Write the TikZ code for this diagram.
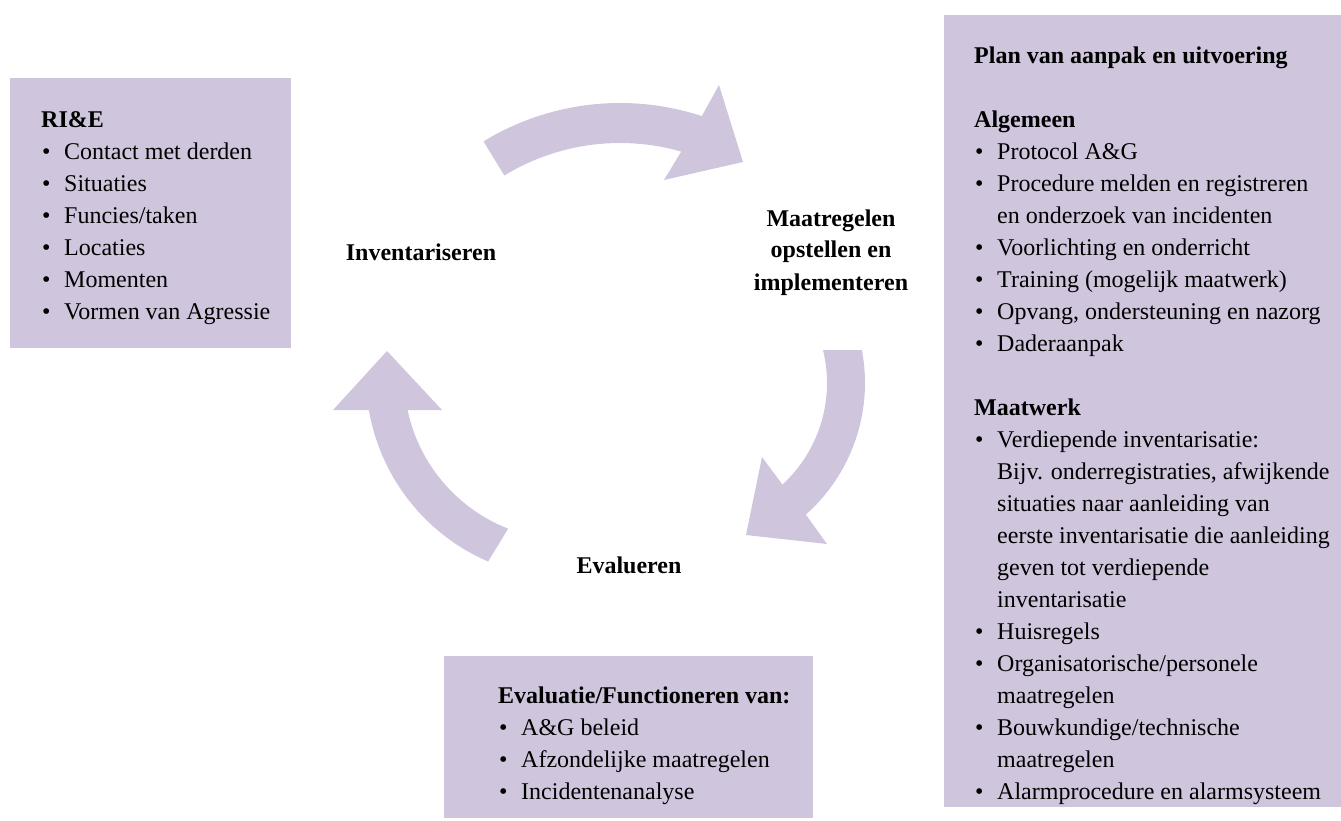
\documentclass[tikz,border=0pt]{standalone}
\usepackage{fontspec}
\setmainfont{Liberation Serif}
\usetikzlibrary{calc}
\definecolor{lilac}{RGB}{207,198,222}
% bullet and hanging indent for list lines
\newcommand\bul{\makebox[23pt][l]{\hspace{1pt}\textbullet}}
\newcommand\ind{\hspace*{23pt}}
\begin{document}
\begin{tikzpicture}[x=1pt,y=-1pt,
  panel/.style={fill=lilac, draw=none, inner sep=0pt, outer sep=0pt, anchor=north west},
  listtext/.style={anchor=base west, inner sep=0pt, font=\fontsize{24}{32}\selectfont},
  phase/.style={anchor=base, inner sep=0pt, font=\fontsize{24}{32}\selectfont\bfseries},
  cyclearrow/.style={fill=lilac, draw=none}]
\useasboundingbox (0,0) rectangle (1341,821);

% coloured panels
\node[panel, minimum width=281pt, minimum height=270pt] (riepanel) at (10,78) {};
\node[panel, minimum width=397pt, minimum height=792pt] (planpanel) at (944,15) {};
\node[panel, minimum width=369pt, minimum height=162pt] (evalpanel) at (444,656) {};

% panel contents
\node[listtext] (rietext) at (41,128) {\begin{tabular}[t]{@{}l@{}}
\textbf{RI\&E}\\
\bul Contact met derden\\
\bul Situaties\\
\bul Funcies/taken\\
\bul Locaties\\
\bul Momenten\\
\bul Vormen van Agressie
\end{tabular}};

\node[listtext] (plantext) at (974,64) {\begin{tabular}[t]{@{}l@{}}
\textbf{Plan van aanpak en uitvoering}\\
\mbox{}\\
\textbf{Algemeen}\\
\bul Protocol A\&G\\
\bul Procedure melden en registreren\\
\ind en onderzoek van incidenten\\
\bul Voorlichting en onderricht\\
\bul Training (mogelijk maatwerk)\\
\bul Opvang, ondersteuning en nazorg\\
\bul Daderaanpak\\
\mbox{}\\
\textbf{Maatwerk}\\
\bul Verdiepende inventarisatie:\\
\ind Bijv. onderregistraties, afwijkende\\
\ind situaties naar aanleiding van\\
\ind eerste inventarisatie die aanleiding\\
\ind geven tot verdiepende\\
\ind inventarisatie\\
\bul Huisregels\\
\bul Organisatorische/personele\\
\ind maatregelen\\
\bul Bouwkundige/technische\\
\ind maatregelen\\
\bul Alarmprocedure en alarmsysteem
\end{tabular}};

\node[listtext] (evaltext) at (498,703) {\begin{tabular}[t]{@{}l@{}}
\textbf{Evaluatie/Functioneren van:}\\
\bul A\&G beleid\\
\bul Afzondelijke maatregelen\\
\bul Incidentenanalyse
\end{tabular}};

% phase labels
\node[phase] (inventariseren) at (421,260) {Inventariseren};
\node[phase] (maatregelen) at (831,226) {\begin{tabular}[t]{@{}c@{}}Maatregelen\\opstellen en\\implementeren\end{tabular}};
\node[phase] (evalueren) at (629,573) {Evalueren};

% curved cycle arrows
\coordinate (c1) at (620,365);
\coordinate (c2) at (689,383);
\coordinate (c3) at (568,376);

\fill[cyclearrow] ($(c1)+(-121.4:262)$) arc[start angle=-121.4, end angle=-71.8, radius=262]
  -- (719,85) -- (743,162) -- (664,180)
  -- ($(c1)+(-74:222)$) arc[start angle=-74, end angle=-121.4, radius=222] -- cycle;

\fill[cyclearrow] ($(c2)+(-10.8:176)$) arc[start angle=-10.8, end angle=48.4, radius=176]
  -- (827,544) -- (746,535) -- (762,457)
  -- ($(c2)+(47.4:138)$) arc[start angle=47.4, end angle=-13.8, radius=138] -- cycle;

\fill[cyclearrow] ($(c3)+(113.3:202)$) arc[start angle=113.3, end angle=170.3, radius=202]
  -- (333,410) -- (387,351) -- (442,410)
  -- ($(c3)+(168:164)$) arc[start angle=168, end angle=111.4, radius=164] -- cycle;
\end{tikzpicture}
\end{document}
